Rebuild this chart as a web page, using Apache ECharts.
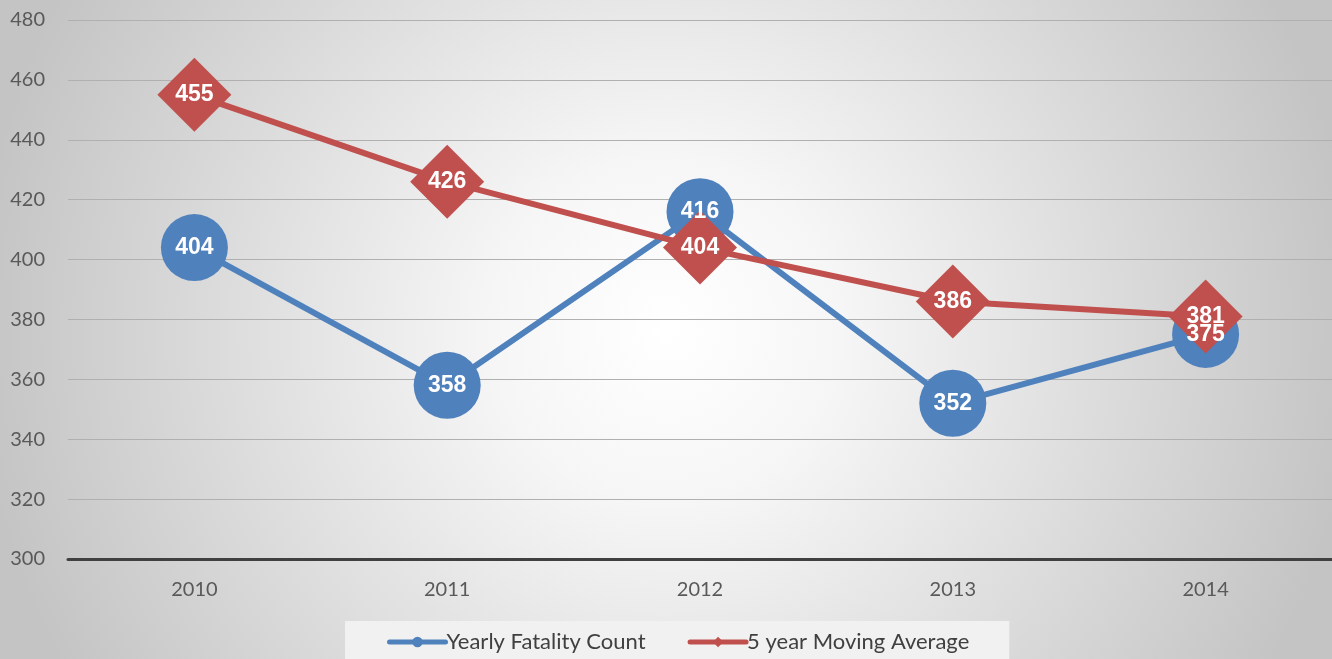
<!DOCTYPE html>
<html>
<head>
<meta charset="utf-8">
<style>
html, body { margin: 0; padding: 0; }
#chart { width: 1332px; height: 659px; }
</style>
<script src="https://cdn.jsdelivr.net/npm/echarts@6/dist/echarts.min.js"></script>
</head>
<body>
<div id="chart"></div>
<script>
const years = ['2010', '2011', '2012', '2013', '2014']
const yearlyCount = [404, 358, 416, 352, 375]
const movingAvg = [455, 426, 404, 386, 381]

const BLUE = '#4f81bd'
const RED = '#c0504d'

const chart = echarts.init(document.getElementById('chart'))

const labelStyle = {
  show: true,
  position: 'inside',
  color: '#ffffff',
  fontWeight: 'bold',
  fontSize: 23,
  fontFamily: 'Liberation Sans'
}

const option = {
  animation: false,
  backgroundColor: {
    type: 'radial',
    x: 0.5,
    y: 0.5,
    r: 1.05,
    colorStops: [
      { offset: 0, color: '#ffffff' },
      { offset: 0.25, color: '#f6f6f6' },
      { offset: 1, color: '#c4c4c4' }
    ]
  },
  grid: {
    top: 20,
    left: 68,
    right: 0,
    bottom: 100
  },
  legend: {
    bottom: -12,
    left: 345,
    backgroundColor: '#f1f1f1',
    padding: [10, 40, 18, 42],
    itemGap: 42,
    itemWidth: 56,
    itemHeight: 13,
    lineStyle: { width: 5, cap: 'round' },
    textStyle: {
      color: '#404040',
      fontSize: 22,
      fontFamily: 'Lato',
      padding: [0, 0, 0, -4]
    },
    data: ['Yearly Fatality Count', '5 year Moving Average']
  },
  xAxis: {
    type: 'category',
    data: years,
    axisTick: { show: false },
    axisLine: {
      lineStyle: { color: '#404040', width: 3 }
    },
    axisLabel: {
      color: '#595959',
      fontSize: 20,
      fontFamily: 'Lato',
      margin: 21
    }
  },
  yAxis: {
    type: 'value',
    min: 300,
    max: 480,
    interval: 20,
    axisLine: { show: false },
    axisTick: { show: false },
    splitLine: {
      lineStyle: { color: '#b0b0b0', width: 1 }
    },
    axisLabel: {
      color: '#595959',
      fontSize: 20,
      fontFamily: 'Lato',
      margin: 23
    }
  },
  series: [{
    name: 'Yearly Fatality Count',
    type: 'line',
    data: yearlyCount,
    symbol: 'circle',
    symbolSize: 67,
    lineStyle: { color: BLUE, width: 6 },
    itemStyle: { color: BLUE },
    label: { show: false },
    z: 2
  }, {
    name: '5 year Moving Average',
    type: 'line',
    data: movingAvg,
    symbol: 'diamond',
    symbolSize: 74,
    lineStyle: { color: RED, width: 6 },
    itemStyle: { color: RED },
    label: labelStyle,
    z: 3
  }, {
    // blue value labels drawn above the red diamonds
    name: 'count labels',
    type: 'line',
    data: yearlyCount,
    symbol: 'circle',
    symbolSize: 67,
    silent: true,
    lineStyle: { width: 0, color: 'rgba(0,0,0,0)' },
    itemStyle: { color: 'rgba(0,0,0,0)' },
    label: labelStyle,
    z: 5
  }]
}

chart.setOption(option)
</script>
</body>
</html>
